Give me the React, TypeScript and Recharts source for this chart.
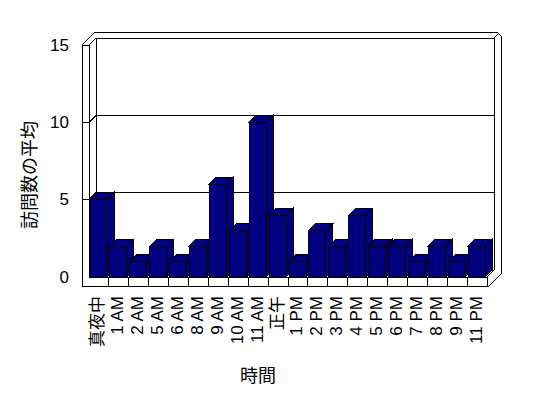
import { BarChart, Bar, XAxis, YAxis, CartesianGrid } from 'recharts';

const hours = [
    '真夜中', '1 AM', '2 AM', '5 AM', '6 AM', '8 AM', '9 AM', '10 AM', '11 AM', '正午',
    '1 PM', '2 PM', '3 PM', '4 PM', '5 PM', '6 PM', '7 PM', '8 PM', '9 PM', '11 PM',
];
const visits = [5, 2, 1, 2, 1, 2, 6, 3, 10, 4, 1, 3, 2, 4, 2, 2, 1, 2, 1, 2];
const countTicks = [0, 5, 10, 15];

const data = hours.map((hour, i) => ({ hour, visits: visits[i] }));

const FONT = "'Liberation Sans', 'Noto Sans CJK JP', sans-serif";
const NAVY = '#000080';

// front plane of the plot, and the fake 3d depth
const LEFT = 89;
const RIGHT = 487;
const TOP = 45;
const BOTTOM = 277;
const DEPTH = 7;
const WALL = 7;
const FLOOR = 9;
const BACK = 6;

function Bar3D(props: any) {
    const { x, y, width, height } = props;
    if (width == null || height == null) return null;
    const d = DEPTH;
    const r = x + width;
    return (
        <g stroke="#000" strokeWidth={1} fill={NAVY} shapeRendering="crispEdges">
            <polygon points={`${x},${y} ${x + d},${y - d} ${r + d},${y - d} ${r},${y}`} />
            <polygon points={`${r},${y} ${r + d},${y - d} ${r + d},${y + height - d} ${r},${y + height}`} />
            <rect x={x} y={y} width={width} height={height} />
        </g>
    );
}

function gridLine(props: any) {
    const { x1, x2, y1, index } = props;
    const y = y1;
    return (
        <g key={`grid-${index}-${y}`} stroke="#000" strokeWidth={1} shapeRendering="crispEdges">
            {y < BOTTOM - 1 && <line x1={x1 - WALL} y1={y} x2={x1} y2={y} />}
            <line x1={x1} y1={y} x2={x1 + DEPTH} y2={y - DEPTH} />
            <line x1={x1 + DEPTH} y1={y - DEPTH} x2={x2 + DEPTH} y2={y - DEPTH} />
        </g>
    );
}

function Frame() {
    const band = (RIGHT - LEFT) / hours.length;
    const outerR = RIGHT + DEPTH + BACK + 1;
    const outerTop = TOP - DEPTH - BACK;
    return (
        <g stroke="#000" strokeWidth={1} fill="none" shapeRendering="crispEdges">
            {/* left wall */}
            <polyline points={`${LEFT - WALL},${BOTTOM + FLOOR} ${LEFT - WALL},${TOP} ${LEFT},${TOP} ${LEFT},${BOTTOM}`} />
            <line x1={LEFT - WALL} y1={TOP} x2={LEFT - WALL + DEPTH + BACK} y2={outerTop} />
            {/* back wall */}
            <line x1={LEFT + DEPTH} y1={TOP - DEPTH} x2={LEFT + DEPTH} y2={BOTTOM - DEPTH} />
            <line x1={RIGHT + DEPTH} y1={TOP - DEPTH} x2={RIGHT + DEPTH} y2={BOTTOM - DEPTH} />
            <line x1={RIGHT + DEPTH} y1={TOP - DEPTH} x2={RIGHT + DEPTH + 5} y2={TOP - DEPTH - 5} />
            <polyline
                points={`${LEFT - WALL + DEPTH + BACK},${outerTop} ${outerR - 4},${outerTop} ${outerR},${outerTop + 4} ${outerR},${BOTTOM - 3} ${RIGHT + 2},${BOTTOM + FLOOR} ${LEFT - WALL},${BOTTOM + FLOOR}`}
            />
            {/* floor */}
            <line x1={LEFT} y1={BOTTOM} x2={RIGHT} y2={BOTTOM} />
            <line x1={RIGHT} y1={BOTTOM} x2={RIGHT + DEPTH} y2={BOTTOM - DEPTH} />
            {hours.map((_, i) => (
                <line
                    key={i}
                    x1={LEFT + (i + 1) * band}
                    y1={BOTTOM}
                    x2={LEFT + (i + 1) * band}
                    y2={BOTTOM + FLOOR}
                />
            ))}
        </g>
    );
}

function HourTick(props: any) {
    const { x, payload } = props;
    return (
        <text
            transform={`translate(${x - 1},${BOTTOM + 19}) rotate(-90)`}
            textAnchor="end"
            dominantBaseline="central"
            fontSize={17}
            fontFamily={FONT}
            style={{ fill: '#000' }}
        >
            {payload.value}
        </text>
    );
}

function CountTick(props: any) {
    const { y, payload } = props;
    return (
        <text
            x={69}
            y={y}
            textAnchor="end"
            dominantBaseline="central"
            fontSize={17}
            fontFamily={FONT}
            style={{ fill: '#000' }}
        >
            {payload.value}
        </text>
    );
}

export default function App() {
    return (
        <div style={{ position: 'absolute', left: 0, top: 0, width: 548, height: 398, background: '#fff' }}>
            <BarChart
                width={548}
                height={398}
                data={data}
                margin={{ top: TOP, right: 548 - RIGHT, left: 0, bottom: 0 }}
                barSize={17}
            >
                <Frame />
                <CartesianGrid horizontal={gridLine} vertical={false} />
                <XAxis
                    dataKey="hour"
                    height={398 - BOTTOM}
                    interval={0}
                    tickLine={false}
                    axisLine={false}
                    tick={(p: any) => <HourTick {...p} />}
                />
                <YAxis
                    width={LEFT}
                    domain={[0, 15]}
                    ticks={countTicks}
                    tickLine={false}
                    axisLine={false}
                    tick={(p: any) => <CountTick {...p} />}
                />
                <Bar dataKey="visits" shape={(p: any) => <Bar3D {...p} />} isAnimationActive={false} />
                <text
                    transform="translate(30,175) rotate(-90)"
                    textAnchor="middle"
                    dominantBaseline="central"
                    fontSize={18}
                    fontFamily={FONT}
                    style={{ fill: '#000' }}
                >
                    訪問数の平均
                </text>
                <text
                    x={258}
                    y={376}
                    textAnchor="middle"
                    dominantBaseline="central"
                    fontSize={18}
                    fontFamily={FONT}
                    style={{ fill: '#000' }}
                >
                    時間
                </text>
            </BarChart>
        </div>
    );
}
